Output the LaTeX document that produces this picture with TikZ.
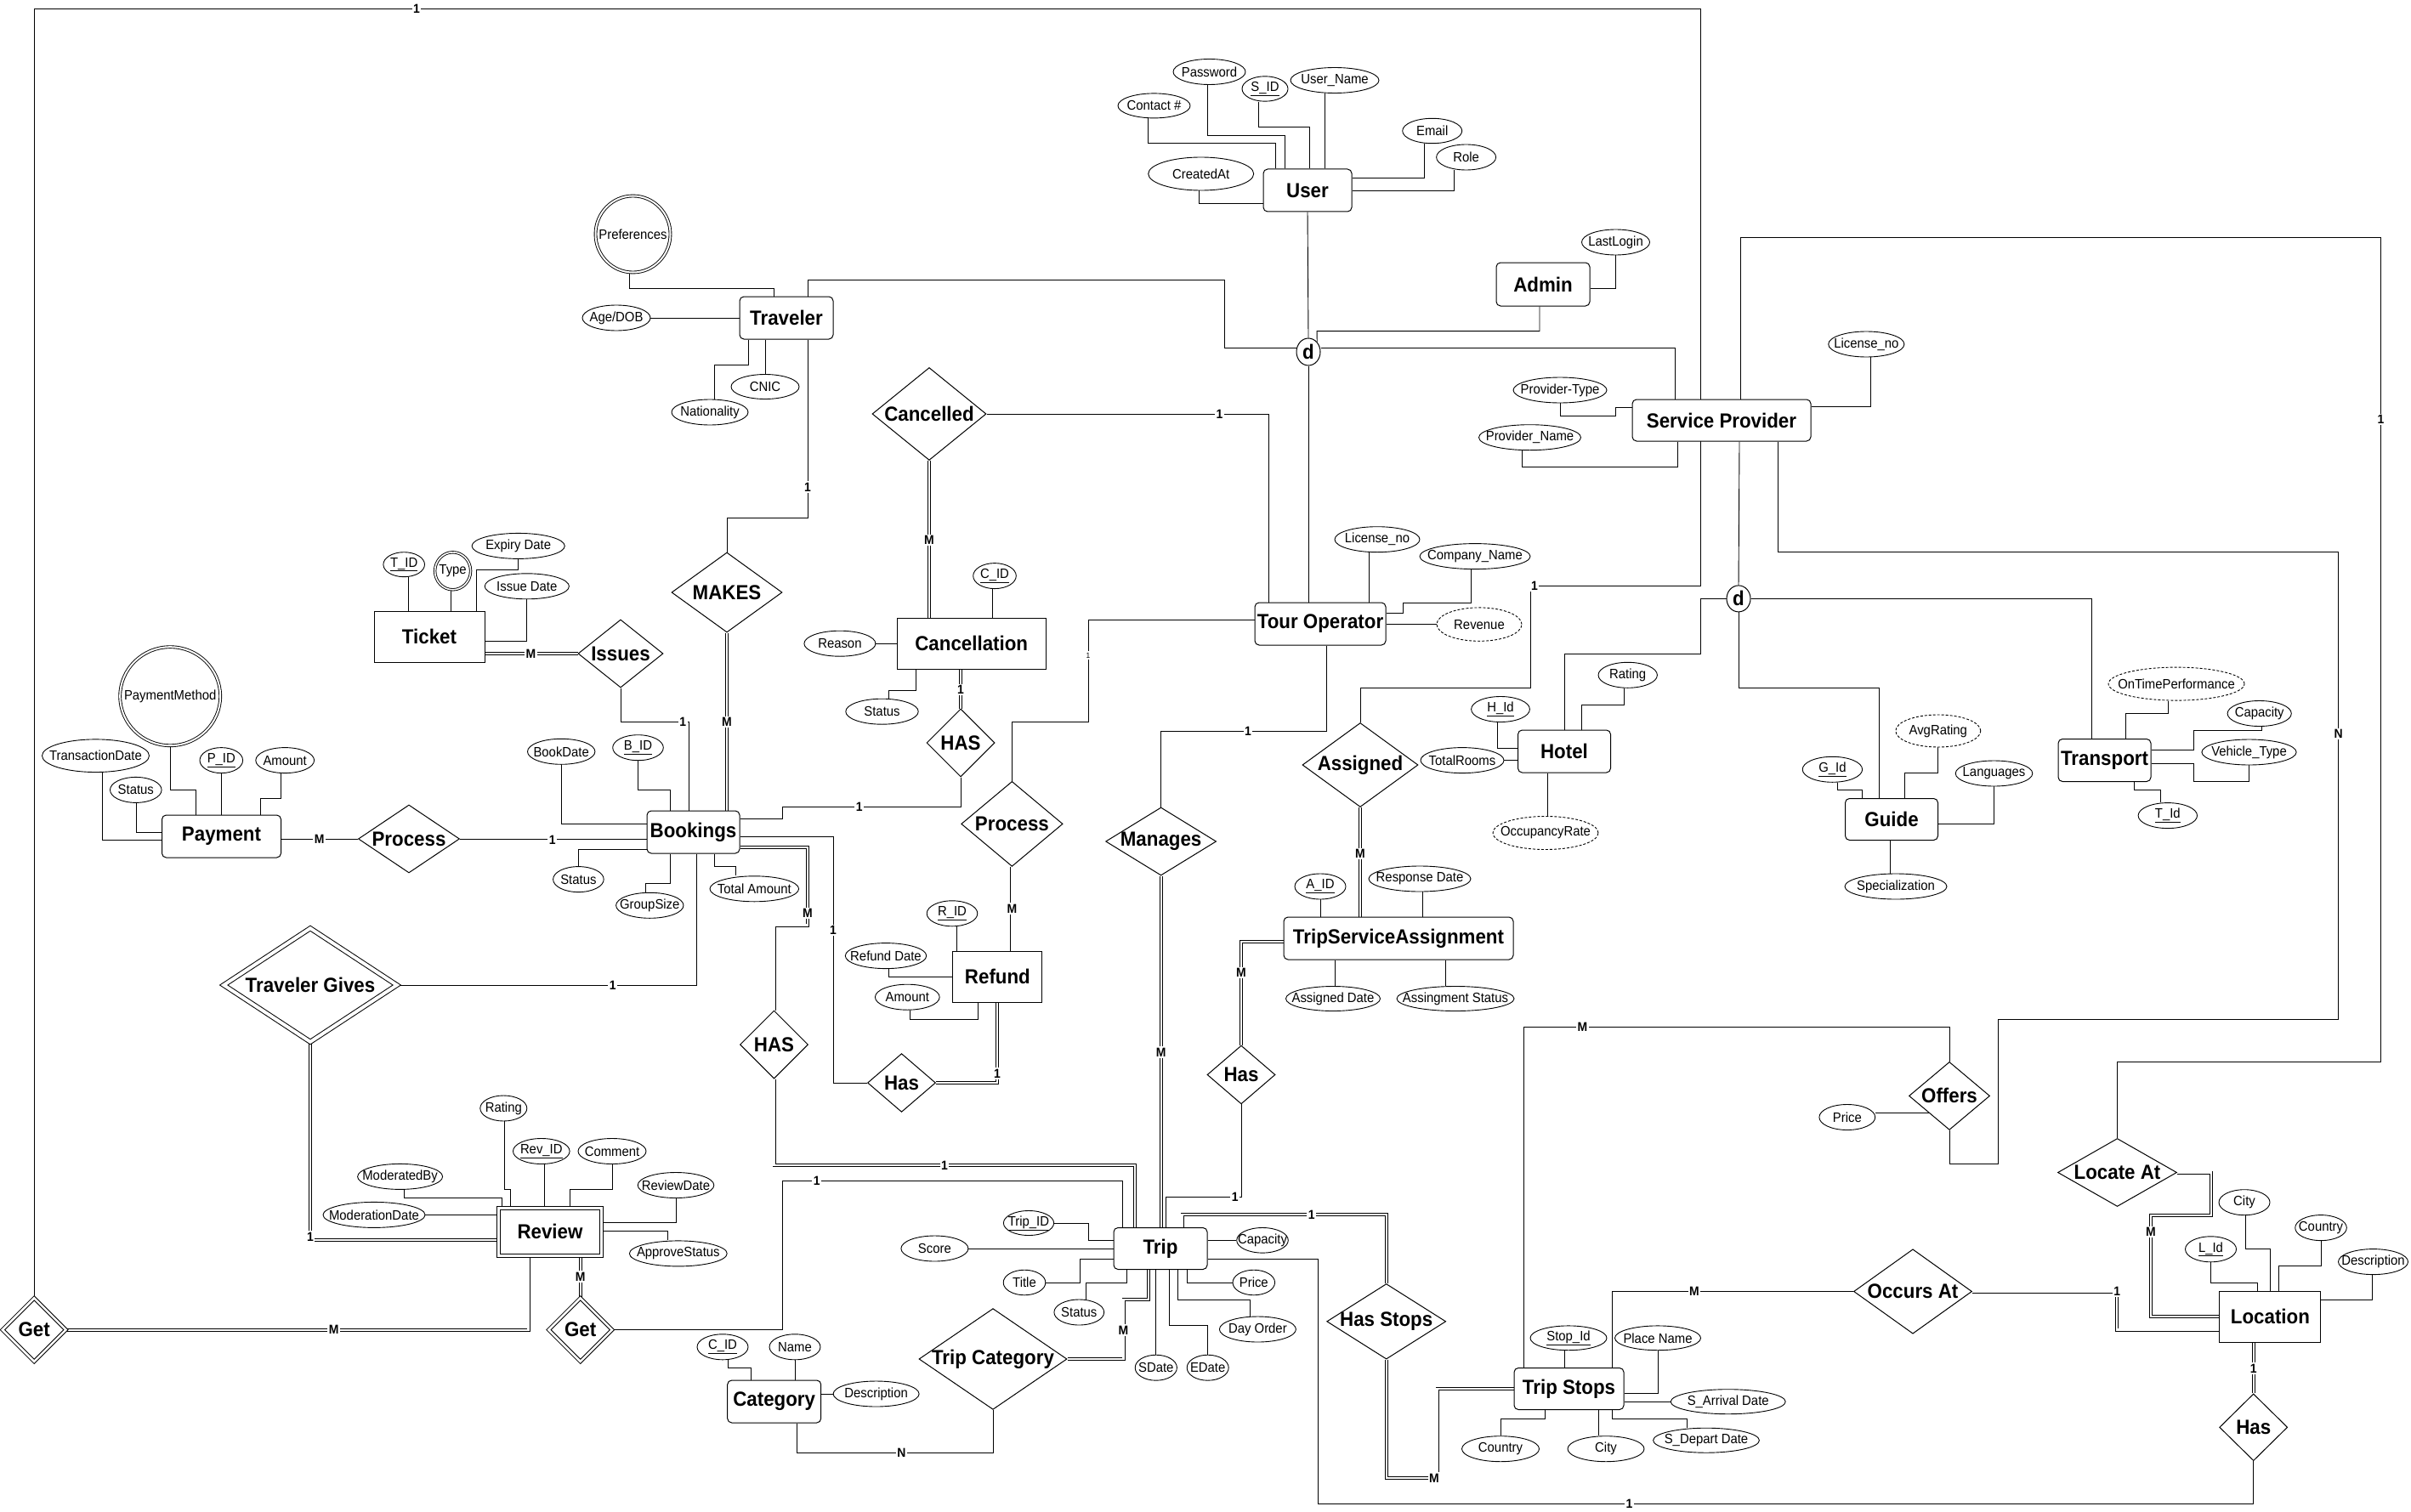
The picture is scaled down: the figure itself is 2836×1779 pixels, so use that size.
\documentclass[tikz,border=0pt]{standalone}
\usepackage{fontspec}
\setmainfont{Liberation Sans}[FakeStretch=0.93]
\usetikzlibrary{shapes.geometric,backgrounds}

\newcommand\entfont{\fontsize{24}{28}\selectfont\bfseries}
\newcommand\attfont{\fontsize{16}{19}\selectfont}
\newcommand\cardfont{\fontsize{15}{18}\selectfont\bfseries}

\tikzset{
  conn/.style={line width=0.9pt},
  dbl/.style={line width=0.9pt, double, double distance=2.2pt},
  entity/.style={draw, line width=1pt, fill=white, rounded corners=5pt, inner sep=0pt, font=\entfont},
  strong/.style={sharp corners},
  attr/.style 2 args={draw, ellipse, line width=0.9pt, fill=white, inner sep=0pt,
    minimum width={2*#1*1pt}, minimum height={2*#2*1pt}},
  atxt/.style={font=\attfont, inner sep=0pt},
  relshape/.style 2 args={draw, diamond, line width=1pt, fill=white, inner sep=0pt,
    minimum width={2*#1*1pt}, minimum height={2*#2*1pt}},
  rtxt/.style={font=\entfont, inner sep=0pt},
  card/.style={fill=white, inner sep=1.5pt, font=\cardfont},
  derived/.style={dash pattern=on 3pt off 2pt},
  weak/.style={double, double distance=3pt},
  disj/.style={draw, ellipse, line width=1pt, fill=white, inner sep=0pt, font=\entfont},
}

% #2 name, #3 centre, #4 text, #5 width, #6 height
\newcommand\entnode[6][]{\node[entity,#1,minimum width=#5pt,minimum height=#6pt] (#2) at (#3) {#4};}
% #2 name, #3 centre, #4 text, #5 x-radius, #6 y-radius
\newcommand\attnode[6][]{\node[attr={#5}{#6},#1,label={[atxt]center:#4}] (#2) at (#3) {};}
% #2 name, #3 centre, #4 text, #5 half width, #6 half height
\newcommand\relnode[6][]{\node[relshape={#5}{#6},#1,label={[rtxt]center:#4}] (#2) at (#3) {};}
\newcommand\cardnode[4][]{\node[card,#1] (#2) at (#3) {#4};}

\begin{document}
\begin{tikzpicture}[x=1pt,y=-1pt]
\useasboundingbox (0,0) rectangle (2836,1779);

% ---------------- entities ----------------
\entnode{traveler}{925,374}{Traveler}{110}{50}
\entnode{user}{1538,224}{User}{104}{50}
\entnode{admin}{1815,334.5}{Admin}{110}{51}
\entnode{sp}{2025,494.5}{Service Provider}{210}{49}
\entnode{touro}{1553,734}{Tour Operator}{154}{50}
\entnode{hotel}{1840,884}{Hotel}{109}{50}
\entnode{guide}{2225,964}{Guide}{109}{49}
\entnode{transport}{2475.5,894.5}{Transport}{109}{50}
\entnode{tsa}{1645,1104}{TripServiceAssignment}{270}{50}
\entnode{trip}{1365,1469}{Trip}{110}{49}
\entnode{tripstops}{1845.5,1634}{Trip Stops}{129}{49}
\entnode{category}{910.7,1649}{Category}{110}{50}
\entnode{payment}{260.5,984}{Payment}{140}{50}
\entnode{bookings}{815.5,979}{Bookings}{109}{50}
\entnode[strong]{ticket}{505,749}{Ticket}{130}{60}
\entnode[strong]{cancellation}{1142.7,757.4}{Cancellation}{175}{60}
\entnode[strong]{refund}{1173.4,1149.3}{Refund}{105}{60}
\entnode[strong]{location}{2670.4,1549.3}{Location}{119}{60}
\entnode[strong,weak]{review}{647,1449.4}{Review}{120.5}{55.5}

% ---------------- specialisation circles ----------------
\node[disj, minimum width=28pt, minimum height=32pt] (d1) at (1539,414) {d};
\node[disj, minimum width=28pt, minimum height=31pt] (d2) at (2045,704.4) {d};

% ---------------- relationships ----------------
\relnode{cancelled}{1093,487}{Cancelled}{67}{54.5}
\relnode{makes}{855,697}{MAKES}{65}{47}
\relnode{issues}{730,769}{Issues}{50}{40}
\relnode{processP}{481,987}{Process}{59.5}{40}
\relnode{hasC}{1130,874}{HAS}{40}{40}
\relnode{processR}{1190.4,969.4}{Process}{59.7}{50}
\relnode{manages}{1365.6,990}{Manages}{65}{40}
\relnode{assigned}{1600,900}{Assigned}{68}{49.5}
\relnode[weak,double distance=4pt]{travgives}{365,1159}{Traveler Gives}{102}{67}
\relnode{hasBT}{910.5,1229}{HAS}{40}{40}
\relnode{hasBR}{1060.5,1274}{Has}{40}{34.4}
\relnode{hasTSA}{1460,1264.5}{Has}{40}{34.4}
\relnode[weak,double distance=2.6pt]{getL}{40.2,1564.6}{Get}{37.5}{37.5}
\relnode[weak,double distance=2.6pt]{getR}{682.7,1564.6}{Get}{37.5}{37.5}
\relnode{tripcat}{1168,1599}{Trip Category}{87}{59.4}
\relnode{hasstops}{1630.7,1554.8}{Has Stops}{70}{44.3}
\relnode{offers}{2293,1289.4}{Offers}{47.5}{40}
\relnode{locateat}{2490.5,1379.5}{Locate At}{70}{40}
\relnode{occursat}{2250,1519.5}{Occurs At}{69.5}{49.7}
\relnode{hasL}{2650.7,1679.3}{Has}{40}{39.4}

% ---------------- attributes ----------------
\attnode[weak,double distance=2pt]{pref}{744.5,275.5}{Preferences}{44}{45}
\attnode{agedob}{725,374}{Age/DOB}{40}{15}
\attnode{cnic}{900,455}{CNIC}{40}{14.5}
\attnode{nation}{835,485}{Nationality}{45}{15}
\attnode{password}{1422.5,84.5}{Password}{42.5}{15}
\attnode{contact}{1357.5,124.4}{Contact \#}{42.5}{14.5}
\attnode{sid}{1488,104.5}{\underline{S\_ID}}{27}{14.7}
\attnode{uname}{1570,94.5}{User\_Name}{52}{15}
\attnode{created}{1412.7,204.5}{CreatedAt}{62}{19.5}
\attnode{email}{1684.7,154}{Email}{35}{14.7}
\attnode{role}{1724.6,185}{Role}{35}{15}
\attnode{lastlogin}{1900.5,285}{LastLogin}{40}{15}
\attnode{ptype}{1835,459}{Provider-Type}{55}{15}
\attnode{pname}{1799.5,514.7}{Provider\_Name}{60}{15}
\attnode{splic}{2195.3,405}{License\_no}{44.6}{15}
\attnode{tolic}{1620,634.7}{License\_no}{50}{15}
\attnode{company}{1735,654.6}{Company\_Name}{65}{15}
\attnode[derived]{revenue}{1740,734.6}{Revenue}{50}{19.7}
\attnode{hid}{1765,834.5}{\underline{H\_Id}}{34.4}{15}
\attnode{hrating}{1914.7,794.3}{Rating}{34.7}{15}
\attnode{totalrooms}{1720,894.6}{TotalRooms}{49}{15}
\attnode[derived]{occ}{1818,980}{OccupancyRate}{62}{19.5}
\attnode{aid}{1553,1043}{\underline{A\_ID}}{30}{15}
\attnode{respdate}{1670,1034}{Response Date}{60}{15}
\attnode{assdate}{1568,1175}{Assigned Date}{55.5}{14.5}
\attnode{assstatus}{1712,1175}{Assingment Status}{69}{14.5}
\attnode{gid}{2155.4,905.3}{\underline{G\_Id}}{35.2}{15}
\attnode[derived]{avgrating}{2279.8,860}{AvgRating}{50}{19}
\attnode{languages}{2345.5,910}{Languages}{45.3}{15}
\attnode{special}{2230,1043}{Specialization}{60}{15}
\attnode[derived]{ontime}{2560,804.6}{OnTimePerformance}{80}{19.5}
\attnode{tcap}{2657.7,839.5}{Capacity}{37.6}{15}
\attnode{vtype}{2645.5,885}{Vehicle\_Type}{55.6}{15}
\attnode{tid}{2549.8,959.6}{\underline{T\_Id}}{34.7}{15}
\attnode{tkid}{475.2,664.2}{\underline{T\_ID}}{24.3}{14.5}
\attnode[weak,double distance=1.6pt]{ttype}{532.6,671.8}{Type}{21}{22}
\attnode{expiry}{609.7,642.4}{Expiry Date}{54.6}{15}
\attnode{issuedate}{619.8,689.8}{Issue Date}{49.6}{15}
\attnode[weak,double distance=2pt]{paymethod}{200.2,819.2}{PaymentMethod}{59}{58}
\attnode{transdate}{112.5,889.2}{TransactionDate}{63}{19.3}
\attnode{pstatus}{159.8,929.4}{Status}{30.3}{15}
\attnode{pid}{260.3,894.6}{\underline{P\_ID}}{25.3}{15}
\attnode{pamount}{335.2,894.6}{Amount}{34.4}{15}
\attnode{bookdate}{660.2,884.3}{BookDate}{39.7}{15}
\attnode{bid}{750.5,879.7}{\underline{B\_ID}}{29.8}{15}
\attnode{bstatus}{680.4,1034.6}{Status}{29.8}{15}
\attnode{groupsize}{764.3,1065.3}{GroupSize}{39.7}{15}
\attnode{totalamt}{887.3,1045.8}{Total Amount}{52.3}{15}
\attnode{cid}{1170,677.6}{\underline{C\_ID}}{25.3}{15}
\attnode{reason}{987.9,757.2}{Reason}{42}{15}
\attnode{cstatus}{1037.5,837.2}{Status}{42.7}{15}
\attnode{rid}{1120,1074.8}{\underline{R\_ID}}{29.8}{15}
\attnode{refdate}{1042,1124.6}{Refund Date}{47.7}{15}
\attnode{ramount}{1067.3,1173.2}{Amount}{37.9}{15}
\attnode{rvrating}{592.3,1304}{Rating}{27.5}{15}
\attnode{revid}{636.8,1354.5}{\underline{Rev\_ID}}{33.3}{15}
\attnode{comment}{720,1354.5}{Comment}{40}{15}
\attnode{modby}{470.6,1384.4}{ModeratedBy}{50}{15}
\attnode{moddate}{440,1429.4}{ModerationDate}{60}{15}
\attnode{revdate}{795,1394.5}{ReviewDate}{44.8}{15}
\attnode{approve}{797.8,1474.9}{ApproveStatus}{57.4}{15}
\attnode{tripid}{1210,1439}{\underline{Trip\_ID}}{29.6}{14.5}
\attnode{score}{1099.4,1469}{Score}{39.5}{15}
\attnode{title}{1205,1509}{Title}{24.8}{14.8}
\attnode{tstatus}{1269.3,1544}{Status}{29.4}{15}
\attnode{sdate}{1359.8,1609.2}{SDate}{24.6}{15}
\attnode{edate}{1420.7,1609.2}{EDate}{24.5}{15}
\attnode{daycap}{1485,1459.3}{Capacity}{30.3}{14.8}
\attnode{price}{1474.8,1509}{Price}{24.8}{14.8}
\attnode{dayorder}{1479.4,1564}{Day Order}{45}{15}
\attnode{catid}{850,1584.8}{\underline{C\_ID}}{30}{15}
\attnode{catname}{935,1584.8}{Name}{30}{15}
\attnode{catdesc}{1030.6,1640}{Description}{50.5}{15}
\attnode{stopid}{1845,1574.3}{\underline{Stop\_Id}}{45}{14.4}
\attnode{placename}{1950,1574.3}{Place Name}{50.5}{14.4}
\attnode{sarr}{2032.7,1649.2}{S\_Arrival Date}{67.5}{14.5}
\attnode{sdep}{2007,1694.7}{S\_Depart Date}{62.4}{14.5}
\attnode{tscountry}{1765,1704.7}{Country}{45.5}{15}
\attnode{tscity}{1889,1704.7}{City}{45}{15}
\attnode{oprice}{2172.8,1314.5}{Price}{32.9}{15}
\attnode{lid}{2600.5,1469.8}{\underline{L\_Id}}{30}{15}
\attnode{lcity}{2640,1414.7}{City}{30}{15}
\attnode{lcountry}{2730,1444.6}{Country}{30.3}{15}
\attnode{ldesc}{2791.5,1484.6}{Description}{41}{15}

% ---------------- connectors ----------------
\begin{pgfonlayer}{background}
% User and its subtypes
\draw[conn] (1350.6,0 |- contact.south) -- (1350.6,168.8) -- (1500,168.8) -- (1500,0 |- user.north);
\draw[conn] (1420.7,0 |- password.south) -- (1420.7,159) -- (1511.6,159) -- (1511.6,0 |- user.north);
\draw[conn] (1480,0 |- sid.south) -- (1480,149) -- (1540.5,149) -- (1540.5,0 |- user.north);
\draw[conn] (1558,0 |- uname.south) -- (1558,0 |- user.north);
\draw[conn] (1410,0 |- created.south) -- (1410,239) -- (user.west |- 0,239);
\draw[conn] (1675.5,0 |- email.south) -- (1675.5,209) -- (user.east |- 0,209);
\draw[conn] (1710,0 |- role.south) -- (1710,224) -- (user.east);
\draw[conn] (user.south) -- (d1.north);
\draw[conn] (1811,0 |- admin.south) -- (1811,389.6) -- (1549,389.6) -- (d1.north east);
\draw[conn] (lastlogin.south) -- (1900.5,339.5) -- (admin.east |- 0,339.5);
\draw[conn] (d1.west |- 0,409) -- (1440,409) -- (1440,329) -- (950,329) -- (950,0 |- traveler.north);
\draw[conn] (d1.east |- 0,409) -- (1970.7,409) -- (1970.7,0 |- sp.north);
\draw[conn] (d1.south) -- (1539,0 |- touro.north);
% Traveler
\draw[conn] (740.4,0 |- pref.south) -- (740.4,339.5) -- (910,339.5) -- (910,0 |- traveler.north);
\draw[conn] (agedob.east) -- (traveler.west);
\draw[conn] (840.5,0 |- nation.north) -- (840.5,429) -- (880,429) -- (880,0 |- traveler.south);
\draw[conn] (cnic.north) -- (cnic.north |- traveler.south);
\draw[conn] (950,0 |- traveler.south) -- (950,609.5) -- (855,609.5) -- (makes.north);
% Cancellation
\draw[conn] (cancelled.east) -- (1492,487) -- (1492,0 |- touro.north);
\draw[dbl] (cancelled.south) -- (cancelled.south |- cancellation.north);
\draw[conn] (1167.4,0 |- cid.south) -- (1167.4,0 |- cancellation.north);
\draw[conn] (reason.east) -- (cancellation.west |- reason.east);
\draw[conn] (1045.3,0 |- cstatus.north) -- (1045.3,812.3) -- (1077.9,812.3) -- (1077.9,0 |- cancellation.south);
\draw[dbl] (hasC.north) -- (hasC.north |- cancellation.south);
\draw[conn] (bookings.east |- 0,963.9) -- (920.4,963.9) -- (920.4,949.3) -- (1130,949.3) -- (hasC.south);
% Ticket
\draw[conn] (480.7,0 |- tkid.south) -- (480.7,0 |- ticket.north);
\draw[conn] (530.3,0 |- ttype.south) -- (530.3,0 |- ticket.north);
\draw[conn] (expiry.south) -- (609.7,670) -- (560,670) -- (560,0 |- ticket.north);
\draw[conn] (issuedate.south) -- (619.8,754) -- (ticket.east |- 0,754);
\draw[dbl] (ticket.east |- issues.west) -- (issues.west);
\draw[conn] (issues.south) -- (730,849) -- (810.2,849) -- (810.2,0 |- bookings.north);
\draw[dbl] (makes.south) -- (makes.south |- bookings.north);
% Bookings
\draw[conn] (bid.south) -- (750.5,929) -- (788,929) -- (788,0 |- bookings.north);
\draw[conn] (bookdate.south) -- (660.2,969.6) -- (bookings.west |- 0,969.6);
\draw[conn] (bstatus.north) -- (680.4,999) -- (bookings.west |- 0,999);
\draw[conn] (759.7,0 |- groupsize.north) -- (759.7,1039.3) -- (788.2,1039.3) -- (788.2,0 |- bookings.south);
\draw[conn] (865.3,0 |- totalamt.north) -- (865.3,1019.3) -- (840.5,1019.3) -- (840.5,0 |- bookings.south);
% Payment
\draw[conn] (paymethod.south) -- (200.2,929) -- (230.5,929) -- (230.5,0 |- payment.north);
\draw[conn] (120.3,0 |- transdate.south) -- (120.3,988.7) -- (payment.west |- 0,988.7);
\draw[conn] (160.7,0 |- pstatus.south) -- (160.7,979.2) -- (payment.west |- 0,979.2);
\draw[conn] (pid.south) -- (pid.south |- payment.north);
\draw[conn] (330.6,0 |- pamount.south) -- (330.6,939) -- (306.7,939) -- (306.7,0 |- payment.north);
\draw[conn] (payment.east |- processP.west) -- (processP.west);
\draw[conn] (processP.east) -- (bookings.west |- processP.east);
% Bookings to review, trip and refund
\draw[conn] (819.4,0 |- bookings.south) -- (819.4,1159) -- (travgives.east);
\draw[dbl] (travgives.south) -- (365,1459) -- (review.west |- 0,1459);
\draw[dbl] (bookings.east |- 0,996.7) -- (950,996.7) -- (950,1088.5) -- (910.5,1088.5) -- (hasBT.north);
\draw[conn] (bookings.east |- 0,984.5) -- (980,984.5) -- (980,1274) -- (hasBR.west);
\draw[dbl] (hasBR.east) -- (1173,1274) -- (1173,0 |- refund.south);
\draw[dbl] (processR.south) -- (processR.south |- refund.north);
\draw[conn] (processR.north) -- (1190.4,849) -- (1280,849) -- (1280,729.3) -- (touro.west |- 0,729.3);
\draw[conn] (1125.6,0 |- rid.south) -- (1125.6,0 |- refund.north);
\draw[conn] (1045,0 |- refdate.south) -- (1045,1149) -- (refund.west |- 0,1149);
\draw[conn] (1070.5,0 |- ramount.south) -- (1070.5,1199) -- (1150,1199) -- (1150,0 |- refund.south);
% Tour operator
\draw[conn] (1610,0 |- tolic.south) -- (1610,0 |- touro.north);
\draw[conn] (1730.6,0 |- company.south) -- (1730.6,709.4) -- (1650.7,709.4) -- (1650.7,721.6) -- (touro.east |- 0,721.6);
\draw[conn] (touro.east |- revenue.west) -- (revenue.west);
\draw[conn] (1560,0 |- touro.south) -- (1560,860) -- (1365.6,860) -- (manages.north);
\draw[dbl] (manages.south) -- (1365.6,0 |- trip.north);
% Outer frame: Get to Assigned
\draw[conn] (getL.north) -- (40.2,10) -- (2000.5,10) -- (2000.5,689) -- (1800,689) -- (1800,809) -- (1600,809) -- (assigned.north);
% Service provider
\draw[conn] (ptype.south) -- (1835,489) -- (1900.5,489) -- (1900.5,479) -- (sp.west |- 0,479);
\draw[conn] (1790,0 |- pname.south) -- (1790,549) -- (1973,549) -- (1973,0 |- sp.south);
\draw[conn] (2200,0 |- splic.south) -- (2200,478.4) -- (sp.east |- 0,478.4);
\draw[conn] (2047,0 |- sp.north) -- (2047,279) -- (2800.5,279) -- (2800.5,1249) -- (2490.5,1249) -- (locateat.north);
\draw[conn] (2091,0 |- sp.south) -- (2091,649) -- (2750.7,649) -- (2750.7,1199) -- (2350,1199) -- (2350,1369) -- (2293,1369) -- (offers.south);
\draw[conn] (2046,0 |- sp.south) -- (d2.north);
\draw[conn] (d2.west) -- (2000.5,704.4) -- (2000.5,769) -- (1840,769) -- (1840,0 |- hotel.north);
\draw[conn] (d2.east) -- (2460,704.4) -- (2460,0 |- transport.north);
\draw[conn] (d2.south) -- (2045,809) -- (2210,809) -- (2210,0 |- guide.north);
% Hotel
\draw[conn] (1761,0 |- hid.south) -- (1761,880.4) -- (hotel.west |- 0,880.4);
\draw[conn] (1910,0 |- hrating.south) -- (1910,829.5) -- (1860.5,829.5) -- (1860.5,0 |- hotel.north);
\draw[conn] (totalrooms.east) -- (hotel.west |- totalrooms.east);
\draw[conn] (1820.6,0 |- hotel.south) -- (1820.6,0 |- occ.north);
% Guide
\draw[conn] (2161,0 |- gid.south) -- (2161,929) -- (2190.6,929) -- (2190.6,0 |- guide.north);
\draw[conn] (avgrating.south) -- (2279.8,909) -- (2240,909) -- (2240,0 |- guide.north);
\draw[conn] (languages.south) -- (2345.5,969.6) -- (guide.east |- 0,969.6);
\draw[conn] (2223.5,0 |- guide.south) -- (2223.5,0 |- special.north);
% Transport
\draw[conn] (2550.7,0 |- ontime.south) -- (2550.7,839) -- (2500,839) -- (2500,0 |- transport.north);
\draw[conn] (2660,0 |- tcap.south) -- (2660,859.4) -- (2580.3,859.4) -- (2580.3,882.3) -- (transport.east |- 0,882.3);
\draw[conn] (vtype.south) -- (2645.5,919.5) -- (2580.3,919.5) -- (2580.3,898.8) -- (transport.east |- 0,898.8);
\draw[conn] (2541.3,0 |- tid.north) -- (2541.3,929) -- (2510.8,929) -- (2510.8,0 |- transport.south);
% Assignment
\draw[dbl] (assigned.south) -- (assigned.south |- tsa.north);
\draw[conn] (aid.south) -- (aid.south |- tsa.north);
\draw[conn] (1673,0 |- respdate.south) -- (1673,0 |- tsa.north);
\draw[conn] (1570,0 |- tsa.south) -- (1570,0 |- assdate.north);
\draw[conn] (1700.7,0 |- tsa.south) -- (1700.7,0 |- assstatus.north);
\draw[dbl] (tsa.west |- 0,1108) -- (1460,1108) -- (hasTSA.north);
\draw[conn] (hasTSA.south) -- (1460,1408.8) -- (1371,1408.8) -- (1371,0 |- trip.north);
% Trip
\draw[dbl] (hasBT.south) -- (910.5,1371) -- (1335,1371) -- (1335,0 |- trip.north);
\draw[conn] (getR.east) -- (920.4,1564.6) -- (920.4,1389.4) -- (1320.7,1389.4) -- (1320.7,0 |- trip.north);
\draw[dbl] (1390.5,0 |- trip.north) -- (1390.5,1429) -- (1630.7,1429) -- (hasstops.north);
\draw[conn] (tripid.east) -- (1280.8,1439) -- (1280.8,1459.3) -- (trip.west |- 0,1459.3);
\draw[conn] (score.east) -- (trip.west |- score.east);
\draw[conn] (title.east) -- (1270,1509) -- (1270,1481.8) -- (trip.west |- 0,1481.8);
\draw[conn] (1277.6,0 |- tstatus.north) -- (1277.6,1509) -- (1325.3,1509) -- (1325.3,0 |- trip.south);
\draw[dbl] (tripcat.east) -- (1321.5,1599) -- (1321.5,1529) -- (1351,1529) -- (1351,0 |- trip.south);
\draw[conn] (1359.8,0 |- trip.south) -- (sdate.north);
\draw[conn] (1375.4,0 |- trip.south) -- (1375.4,1559.5) -- (1420.7,1559.5) -- (edate.north);
\draw[conn] (1385.5,0 |- trip.south) -- (1385.5,1529.2) -- (1470,1529.2) -- (1470,0 |- dayorder.north);
\draw[conn] (1396,0 |- trip.south) -- (1396,1509) -- (price.west);
\draw[conn] (trip.east |- 0,1459.3) -- (daycap.west);
\draw[conn] (trip.east |- 0,1481.8) -- (1550.6,1481.8) -- (1550.6,1769.2) -- (2650.7,1769.2) -- (hasL.south);
\draw[conn] (tripcat.south) -- (1168,1709) -- (937.8,1709) -- (937.8,0 |- category.south);
% Category
\draw[conn] (856,0 |- catid.south) -- (856,1609.6) -- (883.7,1609.6) -- (883.7,0 |- category.north);
\draw[conn] (catname.south) -- (catname.south |- category.north);
\draw[conn] (category.east |- catdesc.west) -- (catdesc.west);
% Review
\draw[conn] (593,0 |- rvrating.south) -- (593,1399) -- (600.5,1399) -- (600.5,0 |- review.north);
\draw[conn] (640.5,0 |- revid.south) -- (640.5,0 |- review.north);
\draw[conn] (720.7,0 |- comment.south) -- (720.7,1399) -- (670.3,1399) -- (670.3,0 |- review.north);
\draw[conn] (475.2,0 |- modby.south) -- (475.2,1409.6) -- (590,1409.6) -- (590,0 |- review.north);
\draw[conn] (moddate.east) -- (review.west |- moddate.east);
\draw[conn] (revdate.south) -- (795,1438.7) -- (review.east |- 0,1438.7);
\draw[conn] (785,0 |- approve.north) -- (785,1448.8) -- (review.east |- 0,1448.8);
\draw[dbl] (682.7,0 |- review.south) -- (getR.north);
\draw[dbl] (621.5,0 |- review.south) -- (621.5,1564.6) -- (getL.east);
% Trip stops
\draw[dbl] (hasstops.south) -- (1630.7,1739) -- (1690.5,1739) -- (1690.5,1634) -- (tripstops.west);
\draw[conn] (1840,0 |- stopid.south) -- (1840,0 |- tripstops.north);
\draw[conn] (placename.south) -- (1950,1639) -- (tripstops.east |- 0,1639);
\draw[conn] (tripstops.east |- sarr.west) -- (sarr.west);
\draw[conn] (1984,0 |- sdep.north) -- (1984,1669.8) -- (1896,1669.8) -- (1896,0 |- tripstops.south);
\draw[conn] (tscountry.north) -- (1765,1669.8) -- (1817,1669.8) -- (1817,0 |- tripstops.south);
\draw[conn] (1880,0 |- tscity.north) -- (1880,0 |- tripstops.south);
\draw[conn] (1792,0 |- tripstops.north) -- (1792,1208.8) -- (2293,1208.8) -- (offers.north);
\draw[conn] (1896,0 |- tripstops.north) -- (1896,1519.5) -- (occursat.west);
\draw[conn] (oprice.east |- offers.south west) -- (offers.south west);
% Location
\draw[dbl] (occursat.east) -- (2490.3,1519.5) -- (2490.3,1564.5) -- (location.west |- 0,1564.5);
\draw[dbl] (locateat.east) -- (2600.7,1379.5) -- (2600.7,1429.7) -- (2530,1429.7) -- (2530,1548.6) -- (location.west |- 0,1548.6);
\draw[conn] (lid.south) -- (2600.5,1509) -- (2655.4,1509) -- (2655.4,0 |- location.north);
\draw[conn] (2641.3,0 |- lcity.south) -- (2641.3,1469) -- (2670.4,1469) -- (2670.4,0 |- location.north);
\draw[conn] (lcountry.south) -- (2730,1489.2) -- (2680.8,1489.2) -- (2680.8,0 |- location.north);
\draw[conn] (2790,0 |- ldesc.south) -- (2790,1529.2) -- (location.east |- 0,1529.2);
\draw[dbl] (2650.7,0 |- location.south) -- (hasL.north);
\end{pgfonlayer}

% ---------------- cardinalities ----------------
\cardnode{k1}{490,10}{1}
\cardnode{k2}{950,573}{1}
\cardnode{k3}{1434.4,487}{1}
\cardnode{k4}{1093,635.5}{M}
\cardnode{k5}{1805,689}{1}
\cardnode{k6}{624.4,769}{M}
\cardnode{k7}{803.3,849}{1}
\cardnode{k8}{855,849.8}{M}
\cardnode{k9}{1130,811.5}{1}
\cardnode{k10}{1010.8,949.3}{1}
\cardnode[font=\fontsize{9}{10}\selectfont]{k11}{1280,771}{1}
\cardnode{k12}{1468,860}{1}
\cardnode{k13}{1600,1004.8}{M}
\cardnode{k14}{2800.5,493.7}{1}
\cardnode{k15}{2750.7,863.6}{N}
\cardnode{k16}{375.6,987}{M}
\cardnode{k17}{649.7,988}{1}
\cardnode{k18}{720.7,1159}{1}
\cardnode{k19}{950,1074.8}{M}
\cardnode{k20}{980,1094.7}{1}
\cardnode{k21}{1190.4,1069}{M}
\cardnode{k22}{1460,1144.5}{M}
\cardnode{k23}{1173,1263}{1}
\cardnode{k24}{1365.6,1238}{M}
\cardnode{k25}{1111,1371}{1}
\cardnode{k26}{960.8,1389.4}{1}
\cardnode{k27}{1452.8,1408.8}{1}
\cardnode{k28}{1542.8,1429}{1}
\cardnode{k29}{365,1455}{1}
\cardnode{k30}{682.7,1502}{M}
\cardnode{k31}{392.6,1564.6}{M}
\cardnode{k32}{1321.5,1565}{M}
\cardnode{k33}{1060.4,1709}{N}
\cardnode{k34}{1687,1739}{M}
\cardnode{k35}{1861.4,1208.8}{M}
\cardnode{k36}{1993,1519.5}{M}
\cardnode{k37}{1916.5,1769.2}{1}
\cardnode{k38}{2530,1449.6}{M}
\cardnode{k39}{2490.3,1519.5}{1}
\cardnode{k40}{2650.7,1610}{1}
\end{tikzpicture}
\end{document}
